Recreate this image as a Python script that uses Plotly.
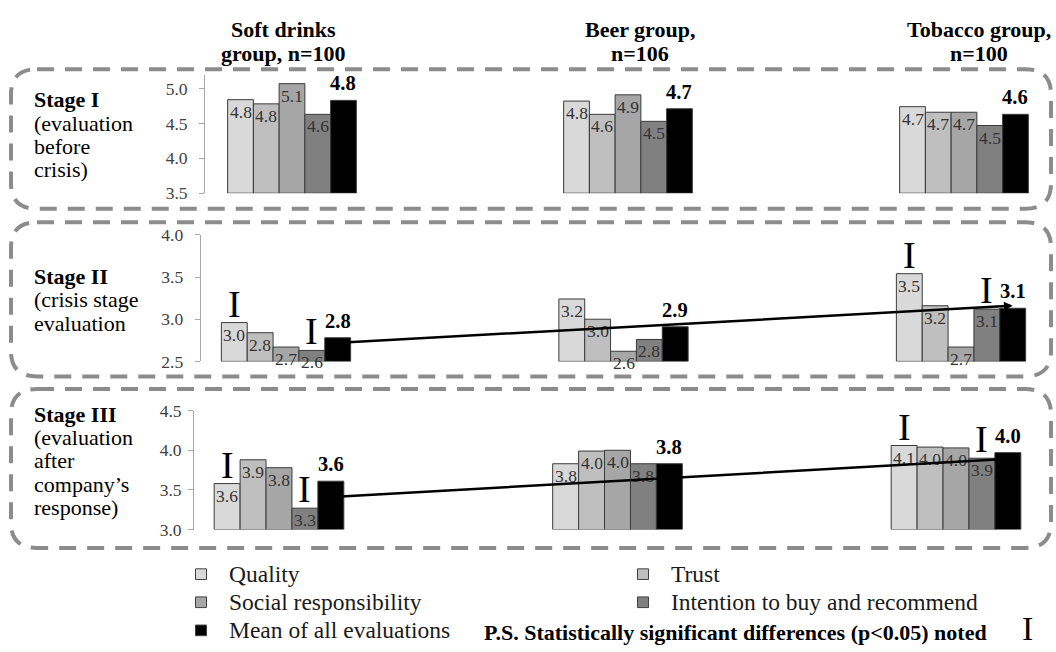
import plotly.graph_objects as go

W, H = 1056, 652
FONT = "Liberation Serif, Times New Roman, Times, serif"

# ---------------- data ----------------
group_titles = [["Soft drinks", "group, n=100"], ["Beer group,", "n=106"], ["Tobacco group,", "n=100"]]
measures = ["Quality", "Trust", "Social responsibility",
            "Intention to buy and recommend", "Mean of all evaluations"]
bar_colors = ["#d9d9d9", "#bfbfbf", "#a6a6a6", "#808080", "#000000"]

stage_labels = [
    ["<b>Stage I</b>", "(evaluation", "before", "crisis)"],
    ["<b>Stage II</b>", "(crisis stage", "evaluation"],
    ["<b>Stage III</b>", "(evaluation", "after", "company\u2019s", "response)"],
]

# values per measure: [soft drinks, beer, tobacco]
s1_quality = [4.84, 4.82, 4.74]
s1_trust = [4.78, 4.63, 4.66]
s1_social = [5.07, 4.91, 4.66]
s1_intention = [4.63, 4.53, 4.47]
s1_mean = [4.83, 4.71, 4.63]

s2_quality = [2.96, 3.24, 3.54]
s2_trust = [2.84, 3.00, 3.16]
s2_social = [2.67, 2.62, 2.67]
s2_intention = [2.63, 2.76, 3.12]
s2_mean = [2.78, 2.91, 3.13]

s3_quality = [3.58, 3.83, 4.06]
s3_trust = [3.88, 3.99, 4.04]
s3_social = [3.78, 4.00, 4.03]
s3_intention = [3.27, 3.83, 3.90]
s3_mean = [3.61, 3.83, 3.97]

y_ranges = [[3.5, 5.2], [2.5, 4.0], [3.0, 4.5]]
y_ticks = [[3.5, 4.0, 4.5, 5.0], [2.5, 3.0, 3.5, 4.0], [3.0, 3.5, 4.0, 4.5]]

# statistically significant differences: (stage, group, measure)
significant = [(1, 0, 0), (1, 0, 3), (1, 2, 0), (1, 2, 3),
               (2, 0, 0), (2, 0, 3), (2, 2, 0), (2, 2, 3)]

# trend of the mean, soft drinks -> tobacco (stage II and III)
trend_stage2 = [2.72, 3.16]
trend_stage3 = [3.41, 3.89]

legend_note = "<b>P.S. Statistically significant differences (p<0.05) noted</b>"

stages = [
    [s1_quality, s1_trust, s1_social, s1_intention, s1_mean],
    [s2_quality, s2_trust, s2_social, s2_intention, s2_mean],
    [s3_quality, s3_trust, s3_social, s3_intention, s3_mean],
]
trends = [None, trend_stage2, trend_stage3]

# ---------------- layout geometry (pixels) ----------------
rows_px = [
    dict(left=205, center0=292, step=336, bottom=189, top=66.6, standoff=8),
    dict(left=200.7, center0=286, step=337.5, bottom=362.5, top=232, standoff=8),
    dict(left=194, center0=279, step=338.5, bottom=536, top=413.3, standoff=3),
]
RIGHT = 1050
BARGAP = 0.617
bw = (1 - BARGAP) / 5

fig = go.Figure()
annotations = []
shapes = []
layout_axes = {}

for i, (vals, geo) in enumerate(zip(stages, rows_px)):
    xn = "x" if i == 0 else f"x{i+1}"
    yn = "y" if i == 0 else f"y{i+1}"
    xkey = "xaxis" if i == 0 else f"xaxis{i+1}"
    ykey = "yaxis" if i == 0 else f"yaxis{i+1}"
    x_lo = -(geo["center0"] - geo["left"]) / geo["step"]
    x_hi = x_lo + (RIGHT - geo["left"]) / geo["step"]
    base = y_ranges[i][0]
    for k, series in enumerate(vals):
        fig.add_trace(go.Bar(
            x=[0, 1, 2], y=[v - base for v in series], base=base,
            marker=dict(color=bar_colors[k], line=dict(color="#3a3a3a", width=1)),
            xaxis=xn, yaxis=yn, showlegend=False, hoverinfo="skip",
        ))
        for g, v in enumerate(series):
            xpos = g + (k - 2) * bw
            if k < 4:
                annotations.append(dict(
                    x=xpos, y=v, xref=xn, yref=yn, text=f"{v:.1f}", showarrow=False,
                    yanchor="top", xanchor="center", yshift=0,
                    font=dict(family=FONT, size=17.5, color="#333333")))
            else:
                annotations.append(dict(
                    x=xpos, y=v, xref=xn, yref=yn, text=f"<b>{v:.1f}</b>", showarrow=False,
                    yanchor="bottom", xanchor="center", yshift=4,
                    font=dict(family=FONT, size=20.5, color="#000000")))
    layout_axes[xkey] = dict(domain=[geo["left"] / W, RIGHT / W], range=[x_lo, x_hi],
                             visible=False, anchor=yn, fixedrange=True)
    layout_axes[ykey] = dict(domain=[1 - geo["bottom"] / H, 1 - geo["top"] / H],
                             range=y_ranges[i], anchor=xn, tickvals=y_ticks[i],
                             ticktext=[f"{t:.1f}" for t in y_ticks[i]],
                             showline=True, linecolor="#a6a6a6", linewidth=1,
                             ticks="outside", ticklen=5, tickcolor="#a6a6a6",
                             showgrid=False, zeroline=False, fixedrange=True,
                             ticklabelstandoff=geo["standoff"],
                             tickfont=dict(family=FONT, size=17.5, color="#404040"))
    # significance markers
    for (s, g, k) in significant:
        if s == i:
            v = vals[k][g]
            annotations.append(dict(
                x=g + (k - 2) * bw, y=v, xref=xn, yref=yn, text="I", showarrow=False,
                yanchor="bottom", xanchor="center", yshift=-4,
                font=dict(family=FONT, size=38, color="#000000")))
    # trend arrow
    if trends[i] is not None:
        annotations.append(dict(
            x=2 + 2 * bw, y=trends[i][1], ax=0 + 2 * bw, ay=trends[i][0],
            xref=xn, yref=yn, axref=xn, ayref=yn, text="", showarrow=True,
            arrowhead=2, arrowsize=0.7, arrowwidth=2.5, arrowcolor="#000000", standoff=0))

# group titles
title_cx = [283, 640, 979]
title_y = [20, 45]
for g, lines in enumerate(group_titles):
    for j, line in enumerate(lines):
        annotations.append(dict(
            x=title_cx[g] / W, y=1 - title_y[j] / H, xref="paper", yref="paper",
            text=f"<b>{line}</b>", showarrow=False, xanchor="center", yanchor="middle",
            font=dict(family=FONT, size=22, color="#000000")))

# stage labels
stage_label_y = [[92, 117, 141, 165], [275, 299, 323], [417, 441, 465, 489, 513]]
for s, lines in enumerate(stage_labels):
    for j, line in enumerate(lines):
        annotations.append(dict(
            x=32 / W, y=1 - stage_label_y[s][j] / H, xref="paper", yref="paper",
            text=line, showarrow=False, xanchor="left", yanchor="middle",
            font=dict(family=FONT, size=22, color="#000000")))

# dashed rounded boxes
def rounded_path(x0, y0, x1, y1, r):
    rx, ry = r / W, r / H
    X0, X1 = x0 / W, x1 / W
    Y0, Y1 = 1 - y0 / H, 1 - y1 / H  # Y0 top, Y1 bottom
    return (f"M {X0+rx},{Y0} L {X1-rx},{Y0} Q {X1},{Y0} {X1},{Y0-ry} "
            f"L {X1},{Y1+ry} Q {X1},{Y1} {X1-rx},{Y1} L {X0+rx},{Y1} "
            f"Q {X0},{Y1} {X0},{Y1+ry} L {X0},{Y0-ry} Q {X0},{Y0} {X0+rx},{Y0} Z")

boxes_px = [(11, 61, 1051, 205), (11, 219, 1051, 378), (11, 391, 1051, 555)]
for b in boxes_px:
    shapes.append(dict(type="path", xref="paper", yref="paper", path=rounded_path(*b, 26),
                       line=dict(color="#8c8c8c", width=4, dash="17px,11px")))

# legend
leg_sq_x = [201, 643]
leg_txt_x = [227, 669]
leg_y = [582, 611, 640]
leg_pos = [(0, 0), (1, 0), (0, 1), (1, 1), (0, 2)]
sq = 11
for k, name in enumerate(measures):
    c, r = leg_pos[k]
    cx, cy = leg_sq_x[c], leg_y[r]
    shapes.append(dict(type="rect", xref="paper", yref="paper",
                       x0=(cx - sq / 2) / W, x1=(cx + sq / 2) / W,
                       y0=1 - (cy + sq / 2) / H, y1=1 - (cy - sq / 2) / H,
                       fillcolor=bar_colors[k], line=dict(color="#404040", width=1)))
    annotations.append(dict(
        x=leg_txt_x[c] / W, y=1 - cy / H, xref="paper", yref="paper", text=name,
        showarrow=False, xanchor="left", yanchor="middle",
        font=dict(family=FONT, size=23.5, color="#1a1a1a")))
annotations.append(dict(
    x=482 / W, y=1 - 642 / H, xref="paper", yref="paper", text=legend_note,
    showarrow=False, xanchor="left", yanchor="middle",
    font=dict(family=FONT, size=22, color="#000000")))
annotations.append(dict(
    x=1027 / W, y=1 - 638 / H, xref="paper", yref="paper", text="I",
    showarrow=False, xanchor="center", yanchor="middle",
    font=dict(family=FONT, size=34, color="#000000")))

fig.update_layout(
    width=W, height=H, margin=dict(l=0, r=0, t=0, b=0),
    paper_bgcolor="white", plot_bgcolor="rgba(0,0,0,0)",
    barmode="group", bargap=BARGAP, bargroupgap=0,
    showlegend=False, annotations=annotations, shapes=shapes,
    font=dict(family=FONT), **layout_axes,
)
fig.write_html("out.html", config={"displayModeBar": False},
               post_script="document.body.style.margin='0';")
